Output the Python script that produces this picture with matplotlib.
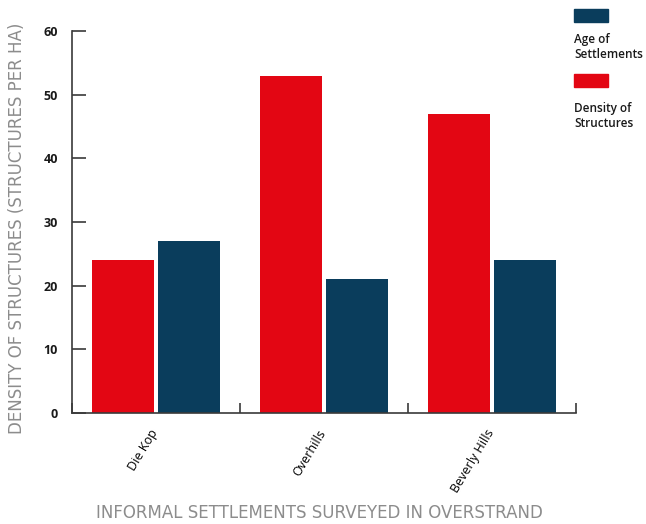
import matplotlib.pyplot as plt
import matplotlib.transforms as mtransforms
import numpy as np
from matplotlib.patches import Rectangle

plt.rcParams["font.family"] = ["Open Sans", "DejaVu Sans"]

settlements = ["Die Kop", "Overhills", "Beverly Hills"]
density = [24, 53, 47]
age = [27, 21, 24]

RED = "#e30613"
BLUE = "#0a3d5c"
GREY = "#8c8c8c"
AXIS = "#3a3a3a"

fig = plt.figure(figsize=(6.46, 5.24), dpi=100)
ax = fig.add_axes([72 / 646, 1 - 413 / 524, (576 - 72) / 646, (413 - 31) / 524])

x = np.arange(len(settlements))
w = 0.369
off = 0.196
ax.bar(x - off, density, width=w, color=RED)
ax.bar(x + off, age, width=w, color=BLUE)

ax.set_xlim(-0.5, len(settlements) - 0.5)
ax.set_ylim(0, 60)
for s in ["top", "right"]:
    ax.spines[s].set_visible(False)
for s in ["left", "bottom"]:
    ax.spines[s].set_color(AXIS)
    ax.spines[s].set_linewidth(1.2)

ax.set_yticks(range(0, 61, 10))
ax.tick_params(axis="y", direction="in", length=10, width=1.2, color=AXIS,
               labelsize=9, labelcolor="#1a1a1a", pad=10)
for lbl in ax.get_yticklabels():
    lbl.set_fontweight("bold")

ax.set_xticks(x)
ax.set_xticklabels(settlements, rotation=59, ha="right", va="top", fontsize=9)
ax.tick_params(axis="x", length=0, pad=10)
# nudge the rotated labels a little to the right, as in the original
shift = mtransforms.ScaledTranslation(0.05, 0, fig.dpi_scale_trans)
for lbl in ax.get_xticklabels():
    lbl.set_transform(lbl.get_transform() + shift)
ax.set_xticks(np.arange(-0.5, len(settlements)), minor=True)
ax.tick_params(axis="x", which="minor", direction="in", length=7, width=1.2, color=AXIS)

fig.text(17 / 646, 1 - 228 / 524, "DENSITY OF STRUCTURES (STRUCTURES PER HA)",
         rotation=90, ha="center", va="center", color=GREY, fontsize=12,
         family="DejaVu Sans")
fig.text(319 / 646, 1 - 513 / 524, "INFORMAL SETTLEMENTS SURVEYED IN OVERSTRAND",
         ha="center", va="center", color=GREY, fontsize=12, family="DejaVu Sans")

# legend
fig.patches.append(Rectangle((574 / 646, 1 - 22 / 524), 34 / 646, 13 / 524,
                             transform=fig.transFigure, color=BLUE))
fig.text(574 / 646, 1 - 47 / 524, "Age of\nSettlements", ha="left", va="center",
         fontsize=8.5, color="#1a1a1a", fontweight="semibold", linespacing=1.2)
fig.patches.append(Rectangle((574 / 646, 1 - 87 / 524), 34 / 646, 13 / 524,
                             transform=fig.transFigure, color=RED))
fig.text(574 / 646, 1 - 116 / 524, "Density of\nStructures", ha="left", va="center",
         fontsize=8.5, color="#1a1a1a", fontweight="semibold", linespacing=1.2)

fig.savefig("out.png", dpi=100)
